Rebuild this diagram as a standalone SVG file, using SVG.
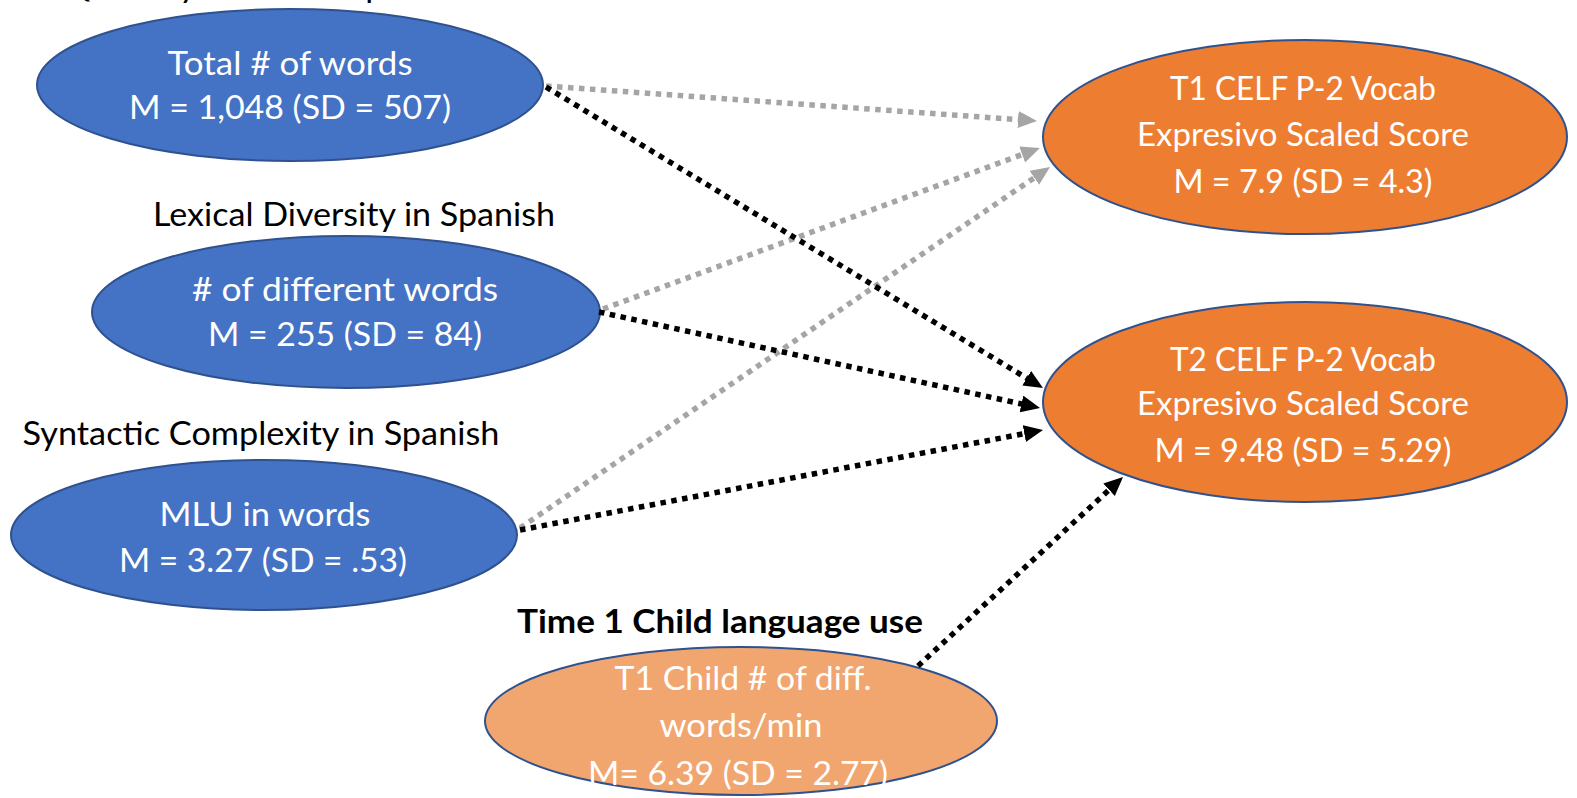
<svg xmlns="http://www.w3.org/2000/svg" width="1577" height="798" viewBox="0 0 1577 798">
<style>
  .bg { fill: #ffffff; }
  .blue { fill: #4472C4; stroke: #2F528F; stroke-width: 2; }
  .orange { fill: #ED7D31; stroke: #2F528F; stroke-width: 2; }
  .lorange { fill: #F1A56F; stroke: #2F528F; stroke-width: 2; }
  .nt { font-family: Lato, "Open Sans", "Liberation Sans", sans-serif; font-size: 33px; fill: #ffffff; text-anchor: middle; }
  .lbl { font-family: Lato, "Open Sans", "Liberation Sans", sans-serif; font-size: 33px; fill: #000000; text-anchor: middle; }
  .bold { font-weight: bold; }
  .gray { fill: none; stroke: #A5A5A5; stroke-width: 5.5; stroke-dasharray: 5.5 5.5; }
  .black { fill: none; stroke: #000000; stroke-width: 5.5; stroke-dasharray: 5.5 5.5; }
</style>
<defs>
  <marker id="ahGray" markerUnits="userSpaceOnUse" markerWidth="20" markerHeight="18" refX="7" refY="8.5" orient="auto">
    <path d="M0,0 L19,8.5 L0,17 z" fill="#A5A5A5"/>
  </marker>
  <marker id="ahBlack" markerUnits="userSpaceOnUse" markerWidth="20" markerHeight="18" refX="7" refY="8.5" orient="auto">
    <path d="M0,0 L19,8.5 L0,17 z" fill="#000000"/>
  </marker>
</defs>
<rect class="bg" x="0" y="0" width="1577" height="798"/>

<g id="labels">
  <text class="lbl" x="263" y="-3" textLength="400" lengthAdjust="spacingAndGlyphs">Quantity of Talk in Spanish</text>
  <text class="lbl" x="354" y="226" textLength="402" lengthAdjust="spacingAndGlyphs">Lexical Diversity in Spanish</text>
  <text class="lbl" x="261" y="445" textLength="477" lengthAdjust="spacingAndGlyphs">Syntactic Complexity in Spanish</text>
  <text class="lbl bold" x="720" y="633" textLength="406" lengthAdjust="spacingAndGlyphs">Time 1 Child language use</text>
</g>

<g id="node-total">
  <ellipse class="blue" cx="290" cy="85" rx="253" ry="76"/>
  <text class="nt" x="290" y="75" textLength="245" lengthAdjust="spacingAndGlyphs">Total # of words</text>
  <text class="nt" x="290" y="119" textLength="322" lengthAdjust="spacingAndGlyphs">M = 1,048 (SD = 507)</text>
</g>

<g id="node-different">
  <ellipse class="blue" cx="346" cy="312" rx="254" ry="76"/>
  <text class="nt" x="345" y="301" textLength="306" lengthAdjust="spacingAndGlyphs"># of different words</text>
  <text class="nt" x="345" y="346" textLength="274" lengthAdjust="spacingAndGlyphs">M = 255 (SD = 84)</text>
</g>

<g id="node-mlu">
  <ellipse class="blue" cx="264" cy="535" rx="253" ry="75"/>
  <text class="nt" x="265" y="526" textLength="211" lengthAdjust="spacingAndGlyphs">MLU in words</text>
  <text class="nt" x="263" y="572" textLength="288" lengthAdjust="spacingAndGlyphs">M = 3.27 (SD = .53)</text>
</g>

<g id="node-t1celf">
  <ellipse class="orange" cx="1305" cy="137" rx="262" ry="97"/>
  <text class="nt" x="1303" y="100" textLength="266" lengthAdjust="spacingAndGlyphs">T1 CELF P-2 Vocab</text>
  <text class="nt" x="1303" y="146" textLength="332" lengthAdjust="spacingAndGlyphs">Expresivo Scaled Score</text>
  <text class="nt" x="1303" y="193" textLength="259" lengthAdjust="spacingAndGlyphs">M = 7.9 (SD = 4.3)</text>
</g>

<g id="node-t2celf">
  <ellipse class="orange" cx="1305" cy="402" rx="262" ry="100"/>
  <text class="nt" x="1303" y="371" textLength="266" lengthAdjust="spacingAndGlyphs">T2 CELF P-2 Vocab</text>
  <text class="nt" x="1303" y="415" textLength="332" lengthAdjust="spacingAndGlyphs">Expresivo Scaled Score</text>
  <text class="nt" x="1303" y="462" textLength="297" lengthAdjust="spacingAndGlyphs">M = 9.48 (SD = 5.29)</text>
</g>

<g id="node-child">
  <ellipse class="lorange" cx="741" cy="721" rx="256" ry="74"/>
  <text class="nt" x="743" y="690" textLength="257" lengthAdjust="spacingAndGlyphs">T1 Child # of diff.</text>
  <text class="nt" x="741" y="737" textLength="163" lengthAdjust="spacingAndGlyphs">words/min</text>
  <text class="nt" x="738" y="785" textLength="300" lengthAdjust="spacingAndGlyphs">M= 6.39 (SD = 2.77)</text>
</g>

<g id="connectors">
  <path class="gray" d="M546,86 L1025,120.1" marker-end="url(#ahGray)"/>
  <path class="gray" d="M603,309 L1028.7,152.1" marker-end="url(#ahGray)"/>
  <path class="gray" d="M520,528 L1040.1,173.8" marker-end="url(#ahGray)"/>
  <path class="black" d="M546,87 L1032.7,381.8" marker-end="url(#ahBlack)"/>
  <path class="black" d="M599,312 L1028.3,405.4" marker-end="url(#ahBlack)"/>
  <path class="black" d="M520,530 L1031.2,432.3" marker-end="url(#ahBlack)"/>
  <path class="black" d="M918,666 L1114.2,485.1" marker-end="url(#ahBlack)"/>
</g>
</svg>
